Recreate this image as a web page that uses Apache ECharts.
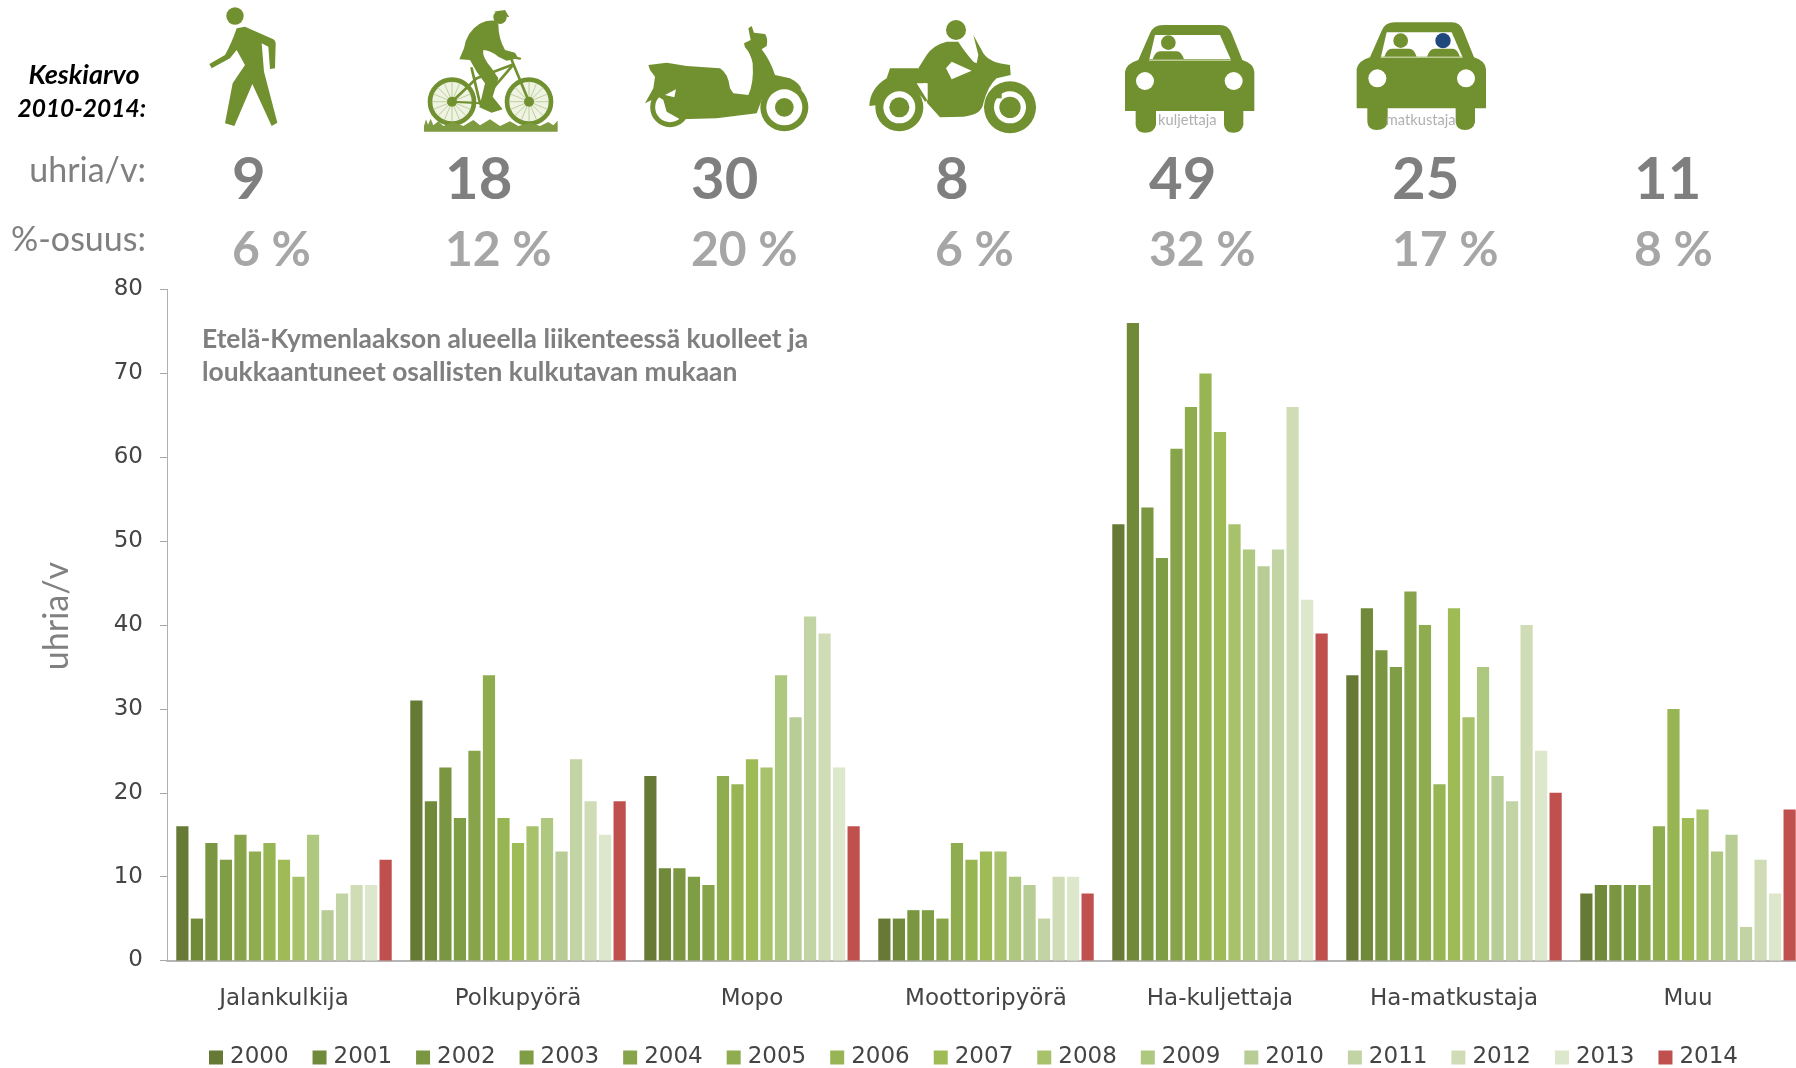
<!DOCTYPE html>
<html><head><meta charset="utf-8">
<style>html,body{margin:0;padding:0;background:#fff;overflow:hidden}#c{width:1796px;height:1068px}</style>
<script src="https://cdn.jsdelivr.net/npm/echarts@6/dist/echarts.min.js"></script>
</head><body><div id="c"></div>
<script>
var categories = ['Jalankulkija','Polkupyörä','Mopo','Moottoripyörä','Ha-kuljettaja','Ha-matkustaja','Muu'];
var years = ['2000','2001','2002','2003','2004','2005','2006','2007','2008','2009','2010','2011','2012','2013','2014'];
var jalankulkija = [16,5,14,12,15,13,14,12,10,15,6,8,9,9,12];
var polkupyora = [31,19,23,17,25,34,17,14,16,17,13,24,19,15,19];
var mopo = [22,11,11,10,9,22,21,24,23,34,29,41,39,23,16];
var moottoripyora = [5,5,6,6,5,14,12,13,13,10,9,5,10,10,8];
var hakuljettaja = [52,76,54,48,61,66,70,63,52,49,47,49,66,43,39];
var hamatkustaja = [34,42,37,35,44,40,21,42,29,35,22,19,40,25,20];
var muu = [8,9,9,9,9,16,30,17,18,13,15,4,12,8,18];
var yearColors = ['#667A35','#708A3A','#7A9640','#7F9D45','#87A44B','#8FAD4F','#97B552','#9FBB56','#A7C26B','#AFC87F','#B8CD95','#C2D3A4','#CFDCB5','#DDE7CB','#C0504D'];
var avgPerYear = ['9','18','30','8','49','25','11'];
var sharePct = ['6 %','12 %','20 %','6 %','32 %','17 %','8 %'];
var statLeft = [232,445,691,935,1149,1392,1634];

var rows = [jalankulkija,polkupyora,mopo,moottoripyora,hakuljettaja,hamatkustaja,muu];
var series = years.map(function(y,i){
  return {name:y,type:'bar',barWidth:12.2,barGap:'19%',
    itemStyle:{color:yearColors[i]},
    data:rows.map(function(r){return r[i];})};
});

var G='#71902F', FONT='Lato, "Noto Sans", sans-serif';
var shapeId=0;
function P(d,fill){
  var name='icon'+(++shapeId);
  echarts.graphic.registerShape(name,echarts.graphic.extendPath(d,{}));
  return {type:name,silent:true,style:{fill:fill||G}};
}
function C(x,y,r,fill,stroke,lw){return {type:'circle',silent:true,shape:{cx:x,cy:y,r:r},style:{fill:fill||G,stroke:stroke||null,lineWidth:lw||0}};}
function L(a,b,c,d,w,col){return {type:'line',silent:true,shape:{x1:a,y1:b,x2:c,y2:d},style:{stroke:col||G,lineWidth:w,lineCap:'round'}};}
function T(txt,x,y,size,color,opt){opt=opt||{};return {type:'text',silent:true,x:x,y:y,style:{text:txt,fill:color,
  font:(opt.style||'')+' '+(opt.weight||'normal')+' '+size+'px '+(opt.family||FONT),
  align:opt.align||'left',verticalAlign:'middle'}};}

function bike(){
  var kids=[];
  [[786,305],[1017,305]].forEach(function(w){
    kids.push(C(w[0],w[1],66,'#EEF3E2',G,14));
    for(var a=0;a<16;a++){var t=a*Math.PI/8;
      kids.push(L(w[0],w[1],w[0]+60*Math.cos(t),w[1]+60*Math.sin(t),2,'#A9BD7C'));}
    kids.push(C(w[0],w[1],15,G));
  });
  kids.push(L(786,305,860,235,8),L(860,235,965,195,8),L(870,310,965,200,8),L(845,205,870,310,8),L(786,305,870,310,6),L(965,180,1017,305,8),L(945,168,990,176,7));
  kids.push(P('M868,72 Q890,60 915,62 L925,72 Q925,115 945,150 L975,158 L985,175 L950,182 L925,170 Q900,150 880,150 Q875,170 905,205 L925,235 L908,290 L938,328 L905,338 L868,322 L885,250 L860,215 L840,180 L808,178 L822,145 Q830,95 868,72 Z'));
  kids.push(C(930,52,20),P('M912,35 L945,30 L958,52 L932,46 Z'));
  kids.push(P('M702,395 L702,378 L708,358 L714,374 L722,356 L730,376 L745,364 L760,378 L790,366 L820,378 L850,360 L870,376 L900,358 L930,378 L960,364 L985,378 L1020,368 L1050,378 L1075,366 L1090,376 L1103,362 L1103,395 Z','#7F9B42'));
  return kids;
}
function scooter(){
  return [
    C(120,322,52,'none',G,15),
    P('M55,195 L110,188 L170,198 L270,205 Q295,220 300,265 L310,280 L355,285 Q372,250 368,190 Q362,160 345,142 L342,130 L362,120 L355,85 L365,78 L372,98 L405,102 Q415,115 410,138 L395,148 Q420,180 435,225 L480,235 Q510,250 515,270 L470,258 Q420,260 395,300 L380,340 L260,355 L150,358 L110,335 L100,300 L85,290 L45,310 L70,265 L75,230 L60,210 Z'),
    P('M105,285 L138,268 L133,292 Z','#fff'),
    C(463,322,72),C(463,322,54,'#fff'),C(463,322,28)
  ];
}
function moto(){
  return [
    C(978,90,30),
    P('M865,205 L890,165 Q910,135 950,125 L985,125 Q1000,150 1030,185 L1040,190 L1045,165 L1030,105 L1060,160 Q1080,190 1140,195 L1142,225 L1100,235 Q1075,255 1060,310 Q1055,345 1000,350 L930,352 L892,310 L885,290 L890,250 L860,250 Z'),
    P('M780,205 L865,205 L892,300 L885,305 Q860,265 810,262 Q760,270 745,315 L718,318 Q720,265 770,235 Z'),
    P('M948,205 L965,185 L1025,212 L965,238 Z','#fff'),
    P('M860,250 L893,250 L893,302 Z','#fff'),
    C(808,322,72),C(808,322,48,'#fff'),C(808,322,30),
    C(1140,322,78),C(1140,322,48,'#fff'),C(1140,322,32),
    P('M1100,272 L1115,272 L1115,295 L1100,295 Z',G)
  ];
}
var CAR='M45,215 Q50,190 85,180 L120,100 Q130,75 160,75 L330,75 Q355,75 365,100 L397,180 Q430,190 433,215 L433,333 L400,333 L400,375 Q395,398 370,398 Q345,398 342,375 L342,333 L138,333 L138,375 Q133,398 105,398 Q80,398 77,375 L77,333 L45,333 Z';
function shoulders(a,b,y){return P('M'+a+','+y+' Q'+(a+8)+','+(y-24)+' '+(a+22)+','+(y-24)+' L'+(b-22)+','+(y-24)+' Q'+(b-8)+','+(y-24)+' '+b+','+y+' Z');}
function car(){
  return [P(CAR),
    P('M135,105 L330,105 L362,178 L118,178 Z','#fff'),
    C(175,128,22),shoulders(128,222,178),
    L(118,181,362,181,3,'#C9D6A5'),
    C(105,243,27,'#fff'),C(371,243,27,'#fff'),
    T('kuljettaja',232,361,44,'#B0B0B0',{align:'center'})];
}
function car2(){
  return [{type:'group',x:695,y:-8,children:[P(CAR),
    P('M135,105 L330,105 L362,178 L118,178 Z','#fff'),
    C(177,130,22),shoulders(128,225,178),C(304,130,23,'#1F497D'),shoulders(256,355,178),
    L(118,180,362,180,3,'#C9D6A5'),
    C(107,243,27,'#fff'),C(373,243,27,'#fff')]},
    T('matkustaja',932,361,44,'#B0B0B0',{align:'center'})];
}
function icons(x,kids){return {type:'group',x:x,y:0,scaleX:1/3,scaleY:1/3,children:kids};}

var graphics=[
  icons(190,[C(135,48,26),P('M140,85 L165,80 L250,118 Q257,122 257,130 L255,205 L240,207 L235,140 L215,130 L222,215 L262,368 L245,378 L187,252 L133,378 L105,370 L128,250 L165,195 L140,150 L120,175 L65,205 L58,192 L105,165 Q125,130 140,85 Z')].concat(bike())),
  icons(630,scooter().concat(moto())),
  icons(1110,car().concat(car2())),
  T('Keskiarvo',84,75,27,'#000',{align:'center',style:'italic',weight:'bold'}),
  T('2010-2014:',146,109,24.5,'#000',{align:'right',style:'italic',weight:'bold'}),
  T('uhria/v:',146,171,34,'#808080',{align:'right'}),
  T('%-osuus:',146,240,34,'#808080',{align:'right'}),
  T('Etelä-Kymenlaakson alueella liikenteessä kuolleet ja',202,339,26.4,'#7F7F7F',{weight:'bold'}),
  T('loukkaantuneet osallisten kulkutavan mukaan',202,372,26.4,'#7F7F7F',{weight:'bold'})
];
avgPerYear.forEach(function(v,i){graphics.push(T(v,statLeft[i],180,58,'#7F7F7F',{weight:'bold'}));});
sharePct.forEach(function(v,i){graphics.push(T(v,statLeft[i],251,48,'#A6A6A6',{weight:'bold'}));});

var AX='DejaVu Sans, sans-serif';
var chart=echarts.init(document.getElementById('c'),null,{renderer:'canvas'});
chart.setOption({
  animation:false,backgroundColor:'#fff',
  grid:{left:167,top:289.5,right:-9,bottom:107.5,containLabel:false,outerBoundsMode:'none'},
  legend:{left:204,top:1041,itemWidth:14,itemHeight:14,itemGap:24,icon:'rect',
    textStyle:{fontFamily:AX,fontSize:23,color:'#444',padding:[0,0,0,2]},data:years,selectedMode:false},
  xAxis:{type:'category',data:categories,
    axisLine:{lineStyle:{color:'#B5B5B5',width:2}},axisTick:{show:false},
    axisLabel:{fontFamily:AX,fontSize:23,color:'#444',margin:27,interval:0}},
  yAxis:{type:'value',min:0,max:80,interval:10,
    name:'uhria/v',nameLocation:'middle',nameGap:93,nameRotate:90,
    nameTextStyle:{fontFamily:FONT,fontSize:34,color:'#808080',padding:[0,0,0,18]},
    splitLine:{show:false},
    axisLine:{show:true,lineStyle:{color:'#A8A8A8',type:'dotted',width:1}},
    axisTick:{show:true,length:7,lineStyle:{color:'#A8A8A8'}},
    axisLabel:{fontFamily:AX,fontSize:23,color:'#444',margin:24}},
  series:series,
  graphic:{elements:graphics}
});
</script></body></html>
